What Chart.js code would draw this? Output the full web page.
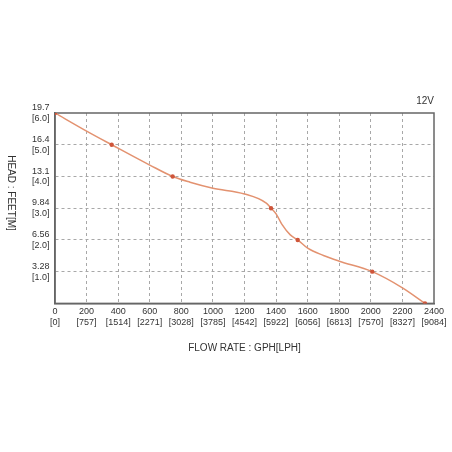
<!DOCTYPE html>
<html lang="en">
<head>
  <meta charset="UTF-8" />
  <title>Pump curve 12V</title>
  <script src="https://cdn.jsdelivr.net/npm/chart.js@4"></script>
  <style>
    html, body { margin: 0; padding: 0; background: #fff; }
    #wrap { width: 452px; height: 452px; }
  </style>
</head>
<body>
  <div id="wrap"><canvas id="pumpChart" width="452" height="452"></canvas></div>

  <script>
    // flow in GPH, head in metres
    const flowGph = [0, 200, 359, 600, 745, 855, 1000, 1200, 1338, 1368, 1400, 1436, 1490, 1537, 1600, 1700, 1800, 2009, 2200, 2343];
    const headM   = [6.0, 5.43, 5.0, 4.36, 4.0, 3.82, 3.63, 3.45, 3.16, 3.0, 2.82, 2.5, 2.16, 2.0, 1.74, 1.51, 1.33, 1.0, 0.49, 0];
    const markedPoints = [0, 2, 4, 9, 13, 17, 19];

    const xTicksGph = [0, 200, 400, 600, 800, 1000, 1200, 1400, 1600, 1800, 2000, 2200, 2400];
    const xTicksLph = ['[0]', '[757]', '[1514]', '[2271]', '[3028]', '[3785]', '[4542]', '[5922]', '[6056]', '[6813]', '[7570]', '[8327]', '[9084]'];
    const yTicksM   = [0, 1, 2, 3, 4, 5, 6];
    const yTicksFt  = ['', '3.28', '6.56', '9.84', '13.1', '16.4', '19.7'];
    const yTicksMLabel = ['', '[1.0]', '[2.0]', '[3.0]', '[4.0]', '[5.0]', '[6.0]'];

    const points = flowGph.map((x, i) => ({ x: x, y: headM[i] }));
    const radii = flowGph.map((_, i) => markedPoints.includes(i) ? 2.2 : 0);

    const textColor = '#333';
    const gridColor = '#a8a8a8';
    const frameColor = '#666';

    // edge grid lines are hidden, the frame plugin draws a solid box instead
    const innerGrid = (ctx, last) => (ctx.index === 0 || ctx.index === last) ? 'rgba(0,0,0,0)' : gridColor;

    // vertical axis title reads top to bottom
    const sideTitle = {
      id: 'sideTitle',
      afterDraw(chart) {
        const ctx = chart.ctx;
        ctx.save();
        ctx.translate(11, 193);
        ctx.rotate(Math.PI / 2);
        ctx.font = '10px "Liberation Sans", Arial, sans-serif';
        ctx.fillStyle = textColor;
        ctx.textAlign = 'center';
        ctx.textBaseline = 'middle';
        ctx.fillText('HEAD : FEET[M]', 0, 0);
        ctx.restore();
      }
    };

    const frame = {
      id: 'frame',
      beforeDatasetsDraw(chart) {
        const { ctx, chartArea: a } = chart;
        ctx.save();
        ctx.strokeStyle = frameColor;
        ctx.lineWidth = 1.5;
        ctx.strokeRect(a.left, a.top, a.right - a.left, a.bottom - a.top);
        ctx.restore();
      }
    };

    Chart.defaults.font.family = '"Liberation Sans", Arial, sans-serif';
    Chart.defaults.color = textColor;

    new Chart(document.getElementById('pumpChart'), {
      type: 'line',
      data: {
        datasets: [{
          data: points,
          borderColor: '#e39270',
          borderWidth: 1.5,
          pointRadius: radii,
          pointBackgroundColor: '#cf553a',
          pointBorderWidth: 0,
          cubicInterpolationMode: 'monotone',
          fill: false
        }]
      },
      options: {
        responsive: false,
        animation: false,
        layout: { padding: { left: 32, right: 18, top: 95, bottom: 98 } },
        plugins: {
          legend: { display: false },
          tooltip: { enabled: false },
          title: {
            display: true,
            text: '12V',
            align: 'end',
            font: { size: 10, weight: 'normal' },
            color: textColor,
            padding: { top: 0, bottom: 6 }
          }
        },
        scales: {
          x: {
            type: 'linear',
            min: 0,
            max: 2400,
            afterBuildTicks: s => { s.ticks = xTicksGph.map(v => ({ value: v })); },
            ticks: {
              font: { size: 9 },
              padding: 3,
              maxRotation: 0,
              callback: (v, i) => [String(xTicksGph[i]), xTicksLph[i]]
            },
            grid: { color: c => innerGrid(c, xTicksGph.length - 1), drawTicks: false },
            border: { color: frameColor, width: 1.5, dash: [3, 3] },
            title: {
              display: true,
              text: 'FLOW RATE : GPH[LPH]',
              font: { size: 10 },
              padding: { top: 11, bottom: 0 }
            }
          },
          y: {
            min: 0,
            max: 6,
            afterBuildTicks: s => { s.ticks = yTicksM.map(v => ({ value: v })); },
            afterFit: s => { s.width = 23; },
            ticks: {
              font: { size: 9 },
              crossAlign: 'far',
              padding: 4,
              callback: (v, i) => yTicksFt[i] ? [yTicksFt[i], yTicksMLabel[i]] : ''
            },
            grid: { color: c => innerGrid(c, yTicksM.length - 1), drawTicks: false },
            border: { color: frameColor, width: 1.5, dash: [3, 3] }
          }
        }
      },
      plugins: [sideTitle, frame]
    });
  </script>
</body>
</html>
